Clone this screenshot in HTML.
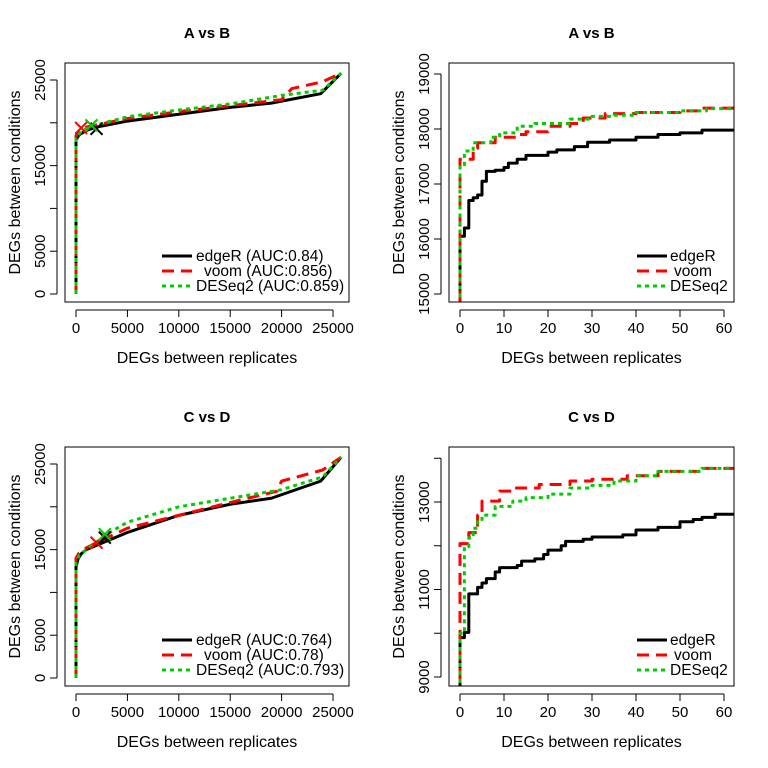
<!DOCTYPE html>
<html><head><meta charset="utf-8"><style>
html,body{margin:0;padding:0;background:#fff;}
svg{display:block;font-family:"Liberation Sans",Arial,sans-serif;}
</style></head><body>
<svg id="chart" width="768" height="768" viewBox="0 0 768 768" xmlns="http://www.w3.org/2000/svg"></svg>
<script>
// ---------- data ----------
const seriesNames = ["edgeR","voom","DESeq2"];
const aucAB = ["0.84","0.856","0.859"];
const aucCD = ["0.764","0.78","0.793"];
const fullXTicks = [0,5000,10000,15000,20000,25000];
const fullYTicks = [0,5000,10000,15000,20000,25000];
const fullYLabels = ["0","5000","","15000","","25000"];
const zoomXTicks = [0,10,20,30,40,50,60];
const zoomYTicksAB = [15000,16000,17000,18000,19000];
const zoomYLabelsAB = ["15000","16000","17000","18000","19000"];
const zoomYTicksCD = [9000,10000,11000,12000,13000,14000];
const zoomYLabelsCD = ["9000","","11000","","13000",""];

// top-left (A vs B full)
const abEdgeX = [0,0,300,1000,2000,5000,10000,15000,19000,23800,25800];
const abEdgeY = [0,18000,18600,19100,19500,20200,21000,21800,22300,23400,25800];
const abVoomX = [0,0,400,1000,5000,10000,15000,20000,21000,24000,25800];
const abVoomY = [0,18500,19100,19500,20500,21300,22000,22700,24000,24800,25800];
const abDesX = [0,0,500,1500,5000,10000,15000,20000,24000,25800];
const abDesY = [0,18200,19000,19600,20700,21500,22200,23200,23800,25800];
const abMarkX = [2000,500,1500];
const abMarkY = [19300,19400,19700];

// bottom-left (C vs D full)
const cdEdgeX = [0,0,200,500,1000,2000,3000,5000,10000,15000,19000,23800,25800];
const cdEdgeY = [0,13000,13900,14500,15000,15500,16000,17000,19000,20300,21000,23000,25800];
const cdVoomX = [0,0,300,1000,2000,5000,10000,15000,19500,20000,24000,25800];
const cdVoomY = [0,14000,14600,15200,15800,17500,19000,20500,21800,23000,24300,25800];
const cdDesX = [0,0,300,1000,3000,5000,10000,15000,20000,24000,25800];
const cdDesY = [0,13500,14300,15000,16800,18200,20000,21000,22000,23500,25800];
const cdMarkX = [2800,2000,2800];
const cdMarkY = [16400,15800,16800];

// top-right (A vs B zoom, step)
const zabEdgeX = [0,1,2,3,4,5,6,8,10,11,13,15,20,22,26,29,34,40,45,50,55,62.5];
const zabEdgeY = [16050,16200,16700,16750,16800,17050,17230,17250,17300,17380,17450,17520,17580,17620,17680,17760,17800,17850,17900,17930,17980,18020];
const zabVoomX = [0,3,4,6,8,13,15,20,25,28,33,40,45,50,55,62.5];
const zabVoomY = [17450,17650,17750,17750,17850,17900,17950,18050,18100,18200,18280,18300,18300,18330,18380,18400];
const zabDesX = [0,1,3,7,9,13,17,25,30,35,40,50,56,62.5];
const zabDesY = [17350,17600,17750,17850,17930,18050,18100,18180,18230,18250,18300,18330,18370,18420];

// bottom-right (C vs D zoom, step)
const zcdEdgeX = [0,1,2,4,5,6,8,9,13,14,17,19,20,23,24,28,30,37,40,45,50,53,55,58,62.5];
const zcdEdgeY = [9900,10020,10900,11050,11150,11250,11400,11500,11550,11650,11700,11800,11900,12000,12100,12150,12200,12250,12360,12420,12550,12600,12650,12720,12820];
const zcdVoomX = [0,2,4,5,9,12,18,25,30,38,45,55,62.5];
const zcdVoomY = [12050,12300,12700,13020,13250,13320,13400,13480,13520,13600,13700,13770,13840];
const zcdDesX = [0,1,2,3,4,5,8,12,15,20,25,30,35,40,45,55,62.5];
const zcdDesY = [10000,11980,12180,12400,12600,12700,12900,13020,13100,13180,13320,13380,13480,13600,13700,13770,13840];

// ---------- drawing ----------
const svg = document.getElementById('chart');
const NS = "http://www.w3.org/2000/svg";
const colors = ["#000000","#ff0000","#00cd00"];
const dashes = ["", "12,7", "4,4"];
function mk(tag, attrs, parent){
  const e = document.createElementNS(NS, tag);
  for (const k in attrs) e.setAttribute(k, attrs[k]);
  (parent||svg).appendChild(e);
  return e;
}
function txt(s, attrs, parent){ const t = mk('text', attrs, parent); t.textContent = s; return t; }

function panel(o){
  const g = mk('g', {});
  
  
  const sx = v => o.px0 + (v - o.x0) * (o.px1 - o.px0) / (o.x1 - o.x0);
  const sy = v => o.py0 + (v - o.y0) * (o.py1 - o.py0) / (o.y1 - o.y0);
  const clipId = 'clip-' + o.name;
  const cp = mk('clipPath', {id: clipId}, g);
  mk('rect', {x: o.bx0, y: o.by0, width: o.bx1 - o.bx0, height: o.by1 - o.by0}, cp);
  const t = txt(o.title, {x: (o.bx0 + o.bx1)/2, y: o.by0 - 25, 'text-anchor': 'middle', 'font-size': 15, 'font-weight': 'bold'}, g);
  
  
  const lg = mk('g', {'clip-path': 'url(#' + clipId + ')'}, g);
  o.series.forEach((s, i) => {
    let d = '';
    s.x.forEach((xv, j) => {
      const X = sx(xv), Y = sy(s.y[j]);
      if (j === 0) {
        d = o.step ? 'M' + X + ',' + sy(o.yStart) + 'L' + X + ',' + Y : 'M' + X + ',' + Y;
      } else if (o.step) {
        d += 'H' + X + 'V' + Y;
      } else d += 'L' + X + ',' + Y;
    });
    const p = mk('path', {d: d, fill: 'none', stroke: colors[i], 'stroke-width': 3, 'stroke-dasharray': dashes[i], 'stroke-linejoin': 'round'}, lg);
    
    
  });
  if (o.markX) {
    o.markX.forEach((mx, i) => {
      const X = sx(mx), Y = sy(o.markY[i]), r = 6;
      const m = mk('path', {d: `M${X-r},${Y-r}L${X+r},${Y+r}M${X-r},${Y+r}L${X+r},${Y-r}`, stroke: colors[i], 'stroke-width': 2, fill: 'none'}, g);
      
      
    });
  }
  const b = mk('rect', {x: o.bx0, y: o.by0, width: o.bx1 - o.bx0, height: o.by1 - o.by0, fill: 'none', stroke: '#000', 'stroke-width': 1}, g);
  
  
  const xa = mk('g', {}, g);
  
  
  mk('line', {x1: sx(o.xTicks[0]), x2: sx(o.xTicks[o.xTicks.length-1]), y1: o.by1 + 8, y2: o.by1 + 8, stroke: '#000'}, xa);
  o.xTicks.forEach(v => {
    mk('line', {x1: sx(v), x2: sx(v), y1: o.by1 + 8, y2: o.by1 + 15, stroke: '#000'}, xa);
    const l = txt(String(v), {x: sx(v), y: o.by1 + 31, 'text-anchor': 'middle', 'font-size': 15}, xa);
    
    
  });
  const xt = txt('DEGs between replicates', {x: (o.bx0 + o.bx1)/2, y: o.by1 + 61, 'text-anchor': 'middle', 'font-size': 16}, g);
  
  
  const ya = mk('g', {}, g);
  
  
  mk('line', {x1: o.bx0 - 8, x2: o.bx0 - 8, y1: sy(o.yTicks[0]), y2: sy(o.yTicks[o.yTicks.length-1]), stroke: '#000'}, ya);
  o.yTicks.forEach((v, i) => {
    mk('line', {x1: o.bx0 - 8, x2: o.bx0 - 15, y1: sy(v), y2: sy(v), stroke: '#000'}, ya);
    if (o.yLabels[i]) {
      const X = o.bx0 - 20, Y = sy(v);
      const l = txt(o.yLabels[i], {x: X, y: Y, 'text-anchor': 'middle', 'font-size': 15, transform: `rotate(-90 ${X} ${Y})`}, ya);
      
      
    }
  });
  const YX = o.bx0 - 45, YY = (o.by0 + o.by1)/2;
  const yt = txt('DEGs between conditions', {x: YX, y: YY, 'text-anchor': 'middle', 'font-size': 16, transform: `rotate(-90 ${YX} ${YY})`}, g);
  
  
  const leg = mk('g', {}, g);
  
  
  o.legend.forEach((s, i) => {
    const Y = o.by0 + 193 + i * 15;
    const e = mk('g', {}, leg);
    
    
    mk('line', {x1: o.legX, x2: o.legX + 30, y1: Y, y2: Y, stroke: colors[i], 'stroke-width': 3, 'stroke-dasharray': dashes[i]}, e);
    txt(s, {x: o.legTX[i], y: Y + 5, 'font-size': 15.5}, e);
  });
}

const leftX = {px0: 76, px1: 333, x0: 0, x1: 25000, bx0: 65, bx1: 349, xTicks: fullXTicks, yTicks: fullYTicks, yLabels: fullYLabels, legX: 162, legTX: [196, 204, 196]};
const rightX = {px0: 460, px1: 724, x0: 0, x1: 60, bx0: 449, bx1: 734, xTicks: zoomXTicks, legX: 637, legTX: [670, 674, 670], step: true};

panel(Object.assign({}, leftX, {name: 'panel-ab-full', title: 'A vs B', by0: 63, by1: 302, py0: 294, py1: 80, y0: 0, y1: 25000,
  series: [{x: abEdgeX, y: abEdgeY}, {x: abVoomX, y: abVoomY}, {x: abDesX, y: abDesY}],
  markX: abMarkX, markY: abMarkY,
  legend: seriesNames.map((n, i) => n + ' (AUC:' + aucAB[i] + ')')}));
panel(Object.assign({}, rightX, {name: 'panel-ab-zoom', title: 'A vs B', by0: 63, by1: 302, py0: 294, py1: 74, y0: 15000, y1: 19000,
  yTicks: zoomYTicksAB, yLabels: zoomYLabelsAB, yStart: 14500,
  series: [{x: zabEdgeX, y: zabEdgeY}, {x: zabVoomX, y: zabVoomY}, {x: zabDesX, y: zabDesY}],
  legend: seriesNames}));
panel(Object.assign({}, leftX, {name: 'panel-cd-full', title: 'C vs D', by0: 447, by1: 686, py0: 678, py1: 464, y0: 0, y1: 25000,
  series: [{x: cdEdgeX, y: cdEdgeY}, {x: cdVoomX, y: cdVoomY}, {x: cdDesX, y: cdDesY}],
  markX: cdMarkX, markY: cdMarkY,
  legend: seriesNames.map((n, i) => n + ' (AUC:' + aucCD[i] + ')')}));
panel(Object.assign({}, rightX, {name: 'panel-cd-zoom', title: 'C vs D', by0: 447, by1: 686, py0: 677, py1: 502, y0: 9000, y1: 13000,
  yTicks: zoomYTicksCD, yLabels: zoomYLabelsCD, yStart: 8500,
  series: [{x: zcdEdgeX, y: zcdEdgeY}, {x: zcdVoomX, y: zcdVoomY}, {x: zcdDesX, y: zcdDesY}],
  legend: seriesNames}));
</script>
</body></html>
